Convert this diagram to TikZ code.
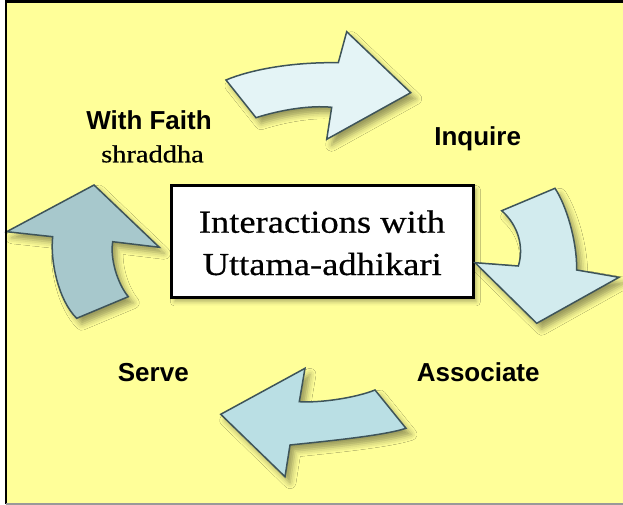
\documentclass[tikz,border=0pt]{standalone}
\usepackage{fontspec}
\setmainfont{Liberation Serif}
\newfontfamily\labelfont{Liberation Sans}
\newfontfamily\heavyserif[FakeBold=0.45]{Liberation Serif}
\usetikzlibrary{shadows.blur}

\definecolor{paper}{HTML}{FFFF99}
\definecolor{edge}{HTML}{3E5459}
\definecolor{arrowA}{HTML}{E4F4F6}
\definecolor{arrowB}{HTML}{D2EBEE}
\definecolor{arrowC}{HTML}{BADFE4}
\definecolor{arrowD}{HTML}{A7C8CC}

% horizontal stretch for the serif lettering
\newcommand\hstretch[2]{\scalebox{#1}[1]{#2}}

\tikzset{
  softshadow/.style={blur shadow={shadow xshift=5pt, shadow yshift=-6pt,
      shadow blur radius=6pt, shadow opacity=40}},
  bentarrow/.style={draw=edge, line width=1.5pt, line join=miter, softshadow},
  steplabel/.style={font=\labelfont\bfseries\fontsize{26}{30}\selectfont,
      anchor=base, inner sep=0pt},
  sublabel/.style={font=\heavyserif\fontsize{24.5}{28}\selectfont, anchor=base, inner sep=0pt},
  titletext/.style={font=\heavyserif\fontsize{32}{38}\selectfont, anchor=base, inner sep=0pt},
  titlebox/.style={draw=black, line width=3pt, fill=white,
      minimum width=302pt, minimum height=112.3pt, inner sep=0pt,
      blur shadow={shadow xshift=3pt, shadow yshift=-4pt,
      shadow blur radius=4pt, shadow opacity=30}},
}

\begin{document}
\begin{tikzpicture}[x=1pt, y=-1pt]
  \useasboundingbox (0,0) rectangle (623,505);

  % page and yellow panel
  \fill[white] (0,0) rectangle (623,505);
  \fill[paper] (6,1) rectangle (623,504);

  % centre box
  \node[titlebox] (box) at (322.4,241.7) {};
  \node[titletext] (line1) at (322.0,232.7) {\hstretch{1.14}{Interactions with}};
  \node[titletext] (line2) at (322.2,275.0) {\hstretch{1.14}{Uttama-adhikari}};

  % curved arrows going round the box
  \path[bentarrow, fill=arrowA]
    (226,80) .. controls (250,70) and (290,62) .. (338.3,62.7)
    -- (346.7,31.7) -- (410.7,92.7) -- (326.7,139.3) -- (331.7,107.3)
    .. controls (310,105) and (280,110) .. (256,117.7) -- cycle;

  \path[bentarrow, fill=arrowB]
    (501.7,210.7) -- (555,188.3)
    .. controls (566,205) and (577,240) .. (576.7,270)
    -- (619,277.3) -- (536.7,323.3) -- (475,262.7) -- (518.3,266)
    .. controls (524,248) and (519,226) .. (501.7,210.7) -- cycle;

  \path[bentarrow, fill=arrowC]
    (375,390) -- (406,428.3)
    .. controls (383,436) and (318,442) .. (290,445)
    -- (285,476.7) -- (220.7,414.3) -- (305,368.3) -- (299.3,401.7)
    .. controls (320,403) and (355,398) .. (375,390) -- cycle;

  \path[bentarrow, fill=arrowD]
    (94,185) -- (159.3,247.3) -- (112.7,241.7)
    .. controls (110,258) and (117,283) .. (128.3,296.7)
    -- (76.7,318.3)
    .. controls (58,300) and (50,260) .. (52.7,236.7)
    -- (6.7,231.7) -- cycle;

  % stage labels
  \node[steplabel] (faith) at (149,130) {With Faith};
  \node[sublabel] (shraddha) at (152.5,162.3) {\hstretch{1.16}{shraddha}};
  \node[steplabel] (inquire) at (477.6,145.7) {Inquire};
  \node[steplabel] (associate) at (478.2,381.7) {Associate};
  \node[steplabel] (serve) at (153.3,381.7) {Serve};

  % panel edges
  \draw[black, line width=2.5pt] (6.2,504) -- (6.2,1.3) -- (623,1.3);
  \draw[black!40, line width=2pt] (6,504) -- (623,504);
\end{tikzpicture}
\end{document}
